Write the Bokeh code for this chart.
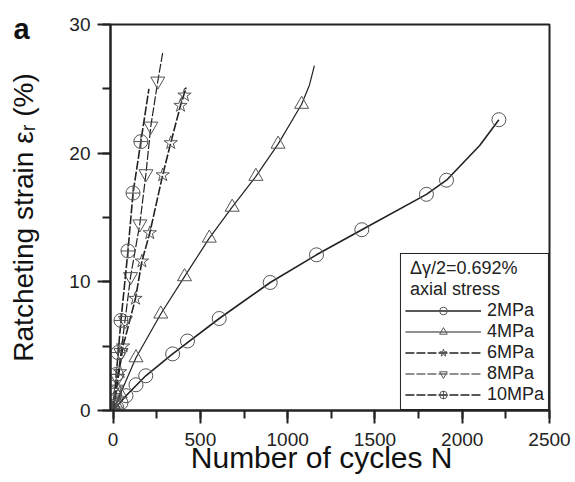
from bokeh.plotting import figure
from bokeh.models import Range1d, SingleIntervalTicker, Legend, LegendItem
from bokeh.embed import file_html
from bokeh.resources import INLINE

# ---- data ----
# 2 MPa (circles)
n_2mpa = [0, 20, 45, 74, 131, 187, 341, 426, 608, 900, 1165, 1425, 1795, 1910, 2210]
e_2mpa = [0, 0.25, 0.6, 1.15, 2.0, 2.7, 4.4, 5.4, 7.15, 9.95, 12.1, 14.05, 16.8, 17.9, 22.6]
line_n_2mpa = [0, 74, 187, 341, 608, 900, 1165, 1425, 1795, 1910, 2100, 2210]
line_e_2mpa = [0, 1.15, 2.7, 4.4, 7.15, 9.95, 12.1, 14.05, 16.8, 17.9, 20.6, 22.6]

# 4 MPa (triangles)
n_4mpa = [0, 15, 40, 131, 273, 409, 551, 682, 818, 945, 1080]
e_4mpa = [0, 0.5, 1.3, 4.1, 7.5, 10.4, 13.4, 15.8, 18.2, 20.7, 23.8]
line_n_4mpa = [0, 131, 273, 409, 551, 682, 818, 945, 1080, 1125, 1153]
line_e_4mpa = [0, 4.1, 7.5, 10.4, 13.4, 15.8, 18.2, 20.7, 23.8, 25.3, 26.8]

# 6 MPa (stars)
n_6mpa = [0, 10, 25, 40, 57, 128, 165, 210, 284, 330, 386, 409]
e_6mpa = [0, 0.7, 1.8, 3.0, 5.0, 8.7, 11.6, 13.8, 18.3, 20.8, 23.7, 24.5]
line_n_6mpa = [0, 57, 128, 165, 210, 284, 330, 386, 418]
line_e_6mpa = [0, 5.0, 8.7, 11.6, 13.8, 18.3, 20.8, 23.7, 25.1]

# 8 MPa (inverted triangles)
n_8mpa = [0, 10, 25, 45, 70, 100, 153, 188, 216, 256]
e_8mpa = [0, 1.0, 2.5, 4.5, 7.0, 10.4, 14.5, 18.4, 22.1, 25.6]
line_n_8mpa = [0, 45, 100, 153, 188, 216, 256, 284]
line_e_8mpa = [0, 4.5, 10.4, 14.5, 18.4, 22.1, 25.6, 27.8]

# 10 MPa (circle-cross)
n_10mpa = [0, 8, 18, 28, 45, 85, 114, 159]
e_10mpa = [0, 1.2, 2.8, 4.5, 7.0, 12.4, 16.9, 20.9]
line_n_10mpa = [0, 45, 85, 114, 159, 205]
line_e_10mpa = [0, 7.0, 12.4, 16.9, 20.9, 25.0]

labels = ["2MPa", "4MPa", "6MPa", "8MPa", "10MPa"]
markers = ["circle", "triangle", "star", "inverted_triangle", "circle_cross"]
x_ticks_interval = 500
y_ticks_interval = 10

FONT = "Liberation Sans"

p = figure(width=575, height=482, output_backend="svg", toolbar_location=None,
           x_range=Range1d(-15, 2500), y_range=Range1d(0, 30),
           min_border_left=110, min_border_right=26, min_border_top=24, min_border_bottom=72)
p.background_fill_color = "white"
p.border_fill_color = "white"
p.xgrid.visible = False
p.ygrid.visible = False
p.outline_line_color = "#222222"
p.outline_line_width = 2

# panel letter "a" as the plot title, pulled to the top-left corner
p.title.text = "a"
p.title.align = "left"
p.title.offset = -97
p.title.standoff = -40
p.title.text_font = FONT
p.title.text_font_size = "29px"
p.title.text_font_style = "bold"
p.title.text_color = "#111111"

p.xaxis.ticker = SingleIntervalTicker(interval=x_ticks_interval, num_minor_ticks=2)
p.yaxis.ticker = SingleIntervalTicker(interval=y_ticks_interval, num_minor_ticks=2)
for ax in (p.xaxis[0], p.yaxis[0]):
    ax.axis_line_color = "#222222"
    ax.axis_line_width = 2
    ax.major_tick_line_color = "#222222"
    ax.major_tick_line_width = 2
    ax.minor_tick_line_color = "#222222"
    ax.minor_tick_line_width = 2
    ax.major_tick_out = 13
    ax.major_tick_in = 0
    ax.minor_tick_out = 8
    ax.minor_tick_in = 0
    ax.major_label_text_font = FONT
    ax.major_label_text_font_size = "19px"
    ax.major_label_text_color = "#222222"
    ax.axis_label_text_font = FONT
    ax.axis_label_text_font_style = "normal"
    ax.axis_label_text_color = "#111111"

p.xaxis.axis_label = "Number of cycles N\u00a0\u00a0"
p.xaxis.axis_label_text_font_size = "30px"
p.xaxis.major_label_standoff = 9
p.xaxis.axis_label_standoff = -8

p.yaxis.axis_label = "Ratcheting strain \u03b5\u1d63 (%)"
p.yaxis.axis_label_text_font_size = "28px"
p.yaxis.major_label_standoff = 7
p.yaxis.axis_label_standoff = 27

series = [
    (n_2mpa, e_2mpa, line_n_2mpa, line_e_2mpa, "solid", 1.6),
    (n_4mpa, e_4mpa, line_n_4mpa, line_e_4mpa, "solid", 1.2),
    (n_6mpa, e_6mpa, line_n_6mpa, line_e_6mpa, "9 2", 1.6),
    (n_8mpa, e_8mpa, line_n_8mpa, line_e_8mpa, "9 2", 1.2),
    (n_10mpa, e_10mpa, line_n_10mpa, line_e_10mpa, "9 2", 1.6),
]

items = []
for (nx, ey, lx, ly, dash, lw), lab, mk in zip(series, labels, markers):
    lr = p.line(lx, ly, line_color="#222222", line_width=lw, line_dash=dash)
    sr = p.scatter(nx, ey, marker=mk, size=14, fill_color=None,
                   line_color="#555555", line_width=1)
    items.append(LegendItem(label=lab, renderers=[lr, sr]))

legend = Legend(items=items, location="bottom_right",
                title="\u00a0\u0394\u03b3/2=0.692%\n\u00a0axial stress",
                title_text_font=FONT, title_text_font_size="18px",
                title_text_font_style="normal", title_text_color="#222222",
                title_standoff=0,
                label_text_font=FONT, label_text_font_size="18px",
                label_text_color="#222222",
                glyph_width=76, glyph_height=19, label_height=19,
                label_standoff=6, spacing=0, padding=4, margin=0,
                border_line_color="#222222", border_line_width=1.5,
                border_line_alpha=1.0,
                background_fill_color="white", background_fill_alpha=1.0)
p.add_layout(legend, "center")

open("out.html", "w").write(file_html(p, INLINE))
